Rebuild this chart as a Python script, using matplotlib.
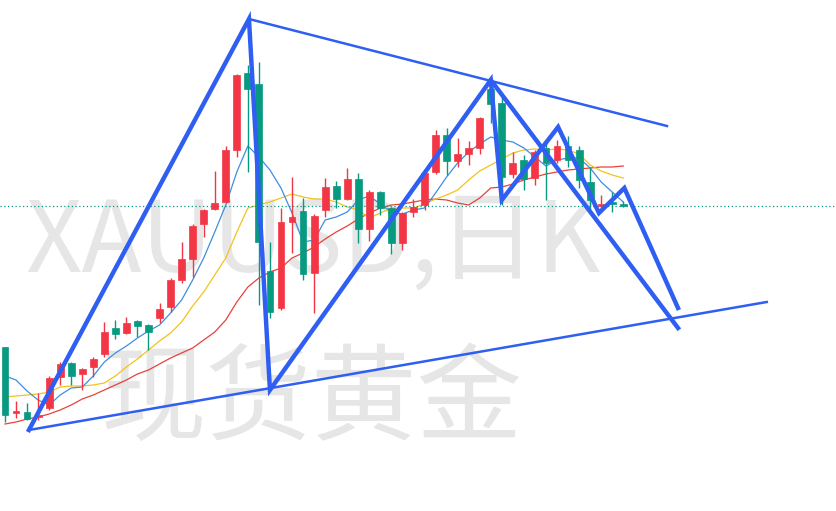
import matplotlib.pyplot as plt
from matplotlib.patches import Rectangle

# daily candles, price units
opens = [164, 98, 99, 94, 103, 134, 148, 137, 144, 157, 183, 178, 190, 186, 193, 204, 231, 252, 287, 302,
         309, 361, 438, 427, 240, 203, 289, 300, 238, 301, 325, 312, 332, 282, 319, 303, 268, 299, 306, 339,
         376, 350, 357, 363, 422, 408, 337, 351, 333, 363, 351, 365, 361, 329, 305, 309, 307]
closes = [96, 100, 92, 96, 133, 147, 135, 142, 152, 179, 177, 188, 185, 179, 202, 231, 252, 285, 301, 308,
          361, 436, 422, 269, 199, 289, 294, 237, 295, 324, 312, 332, 282, 319, 303, 268, 298, 304, 338, 376,
          350, 357, 363, 393, 407, 334, 348, 332, 359, 348, 365, 351, 331, 311, 307, 307, 305]
highs = [164, 110, 108, 118, 135, 149, 149, 143, 154, 189, 191, 194, 191, 187, 208, 233, 269, 287, 302, 340,
         365, 437, 446, 449, 269, 303, 334, 313, 297, 333, 330, 343, 338, 321, 320, 304, 299, 312, 339, 381,
         383, 373, 370, 394, 428, 414, 359, 356, 361, 369, 371, 375, 365, 344, 316, 319, 310]
lows = [89, 93, 91, 91, 101, 126, 126, 121, 134, 154, 172, 177, 174, 161, 188, 199, 228, 234, 274, 301,
        308, 354, 339, 206, 193, 201, 258, 231, 198, 294, 303, 311, 268, 270, 296, 257, 261, 294, 301, 337,
        336, 344, 346, 357, 388, 306, 333, 321, 326, 311, 348, 344, 323, 302, 302, 299, 304]

ma5 = [135, 131, 120, 111, 106, 116, 123, 124, 135, 149, 158, 165, 173, 180, 186, 198, 211, 231, 253, 279,
       306, 339, 365, 354, 341, 323, 298, 269, 271, 291, 294, 299, 311, 315, 307, 299, 297, 301, 303, 318,
       334, 348, 359, 367, 374, 371, 369, 363, 354, 345, 351, 353, 353, 343, 329, 319, 309]
ma10 = [114, 115, 116, 117, 119, 124, 125, 125, 126, 128, 135, 144, 152, 161, 170, 178, 189, 205, 219, 236,
        253, 279, 303, 306, 309, 313, 317, 314, 312, 312, 309, 304, 301, 293, 298, 303, 303, 303, 307, 312,
        316, 321, 331, 340, 346, 352, 358, 361, 362, 361, 362, 361, 357, 346, 340, 336, 333]
ma20 = [87, 89, 92, 94, 97, 101, 106, 112, 116, 121, 126, 131, 137, 141, 147, 153, 158, 163, 171, 179,
        191, 209, 224, 233, 239, 243, 253, 258, 264, 272, 279, 285, 292, 298, 303, 306, 307, 309, 311, 312,
        311, 308, 306, 313, 323, 324, 327, 331, 334, 337, 339, 341, 342, 343, 344, 344, 345]

# hand-drawn pattern lines (candle index, price)
wave_x = [2.17, 22.1, 24.0, 44.0, 45.0, 50.1, 53.8, 56.1, 60.96]
wave_y = [81, 492, 121, 431, 311, 384, 298, 323, 203]
leg_x = [44.0, 60.96]
leg_y = [431, 183]
top_x = [22.1, 59.96]
top_y = [492, 385]
bottom_x = [2.17, 69.0]
bottom_y = [81, 209]

UP = "#F23645"
DOWN = "#089981"
DRAW = "#2F5EF2"

fig = plt.figure(figsize=(8.36, 5.11), dpi=100)
ax = fig.add_axes([0, 0, 1, 1])
ax.set_xlim(-0.45, 75.27)
ax.set_ylim(0, 511)
ax.axis("off")

# watermark
ax.text(0.374, 0.524, "XAUUSD,日K", transform=ax.transAxes, ha="center", va="center",
        fontsize=71, color="#E6E6E6", family=["Noto Sans CJK SC", "DejaVu Sans"], zorder=0)
ax.text(0.373, 0.214, "现货黄金", transform=ax.transAxes, ha="center", va="center",
        fontsize=76, color="#E6E6E6", family=["Noto Sans CJK SC", "DejaVu Sans"], zorder=0)

idx = list(range(len(opens)))
ax.plot(idx, ma20, color="#E8413B", lw=0.9, zorder=2)
ax.plot(idx, ma10, color="#F4C21B", lw=0.9, zorder=2)
ax.plot(idx, ma5, color="#3D8FE0", lw=0.9, zorder=2)

w = 0.62
for i in idx:
    o, c, h, l = opens[i], closes[i], highs[i], lows[i]
    col = UP if c >= o else DOWN
    ax.vlines(i, l, h, color=col, lw=1.0, zorder=3)
    lo = min(o, c)
    ht = max(abs(c - o), 1.2)
    ax.add_patch(Rectangle((i - w / 2, lo), w, ht, facecolor=col, edgecolor=col, lw=0.5, zorder=3))

ax.axhline(closes[-1], color=DOWN, lw=0.9, ls=(0, (1, 2)), zorder=2)

ax.plot(wave_x, wave_y, color=DRAW, lw=3.2, solid_joinstyle="miter", zorder=4)
ax.plot(leg_x, leg_y, color=DRAW, lw=3.2, zorder=4)
ax.plot(top_x, top_y, color=DRAW, lw=1.8, zorder=4)
ax.plot(bottom_x, bottom_y, color=DRAW, lw=1.8, zorder=4)

fig.savefig("out.png", dpi=100)
